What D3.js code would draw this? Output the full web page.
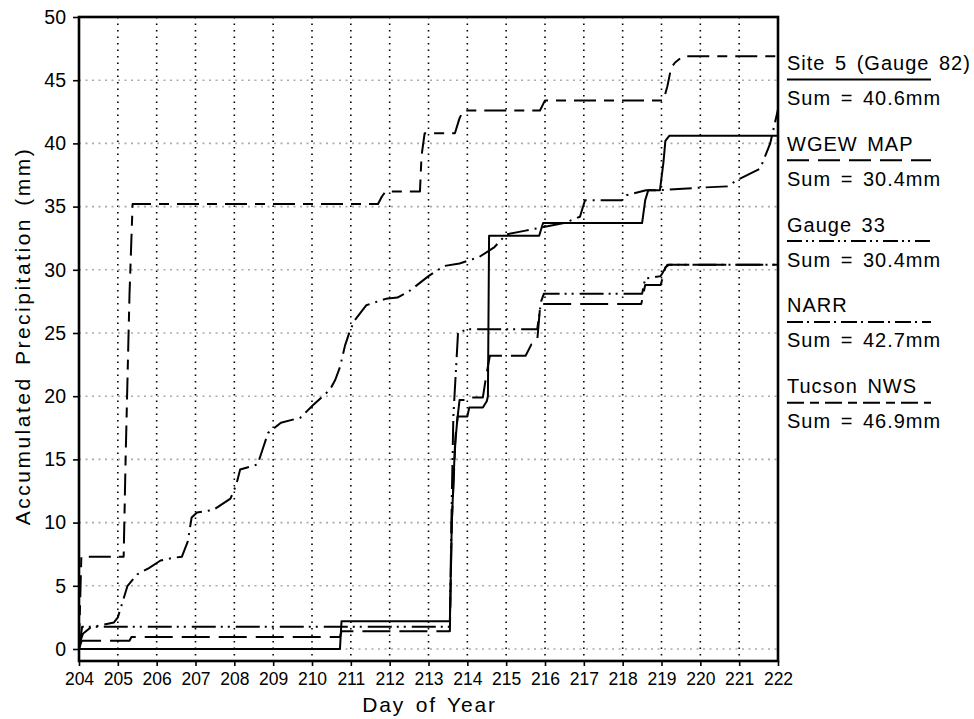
<!DOCTYPE html>
<html>
<head>
<meta charset="utf-8">
<script src="https://cdn.jsdelivr.net/npm/d3@7/dist/d3.min.js"></script>
<style>
  html, body { margin: 0; padding: 0; background: #fff; }
  svg { display: block; }
  text { font-family: "Liberation Sans", Arial, sans-serif; fill: #000; }
</style>
</head>
<body>
<svg id="chart" width="974" height="719"></svg>
<script>
// Accumulated precipitation, day of year 204-222
const xTicks = d3.range(204, 223, 1);
const yTicks = d3.range(0, 51, 5);

const site5Days = [204, 210.72, 210.76, 213.55, 213.6, 213.68, 213.75, 214.0, 214.05, 214.4, 214.5, 214.53, 214.56, 215.85, 215.95, 218.5, 218.58, 218.66, 218.96, 219.05, 219.1, 219.2, 222];
const site5Vals = [0, 0, 2.2, 2.2, 10, 16, 18.4, 18.4, 19.1, 19.1, 19.6, 20, 32.7, 32.7, 33.7, 33.7, 35.5, 36.3, 36.3, 38.5, 40.2, 40.6, 40.6];

const wgewDays = [204, 204.07, 205.3, 205.35, 210.72, 210.76, 213.55, 213.6, 213.7, 213.8, 214.0, 214.05, 214.4, 214.48, 214.58, 215.5, 215.65, 215.8, 215.88, 218.48, 218.58, 218.98, 219.1, 219.2, 222];
const wgewVals = [0, 0.65, 0.65, 0.95, 0.95, 1.4, 1.4, 10, 17, 19.7, 19.7, 19.9, 19.9, 21.5, 23.2, 23.2, 24.1, 24.4, 27.3, 27.3, 28.8, 28.8, 30.2, 30.4, 30.4];

const gauge33Days = [204, 204.08, 213.55, 213.6, 213.64, 213.76, 214.0, 215.8, 215.9, 215.97, 218.5, 218.58, 218.98, 219.15, 222];
const gauge33Vals = [0, 1.75, 1.75, 12, 18.4, 25.0, 25.3, 25.3, 27.5, 28.1, 28.1, 29.3, 29.5, 30.4, 30.4];

const narrDays = [204, 204.1, 204.3, 204.9, 205.0, 205.25, 205.5, 205.8, 206.1, 206.4, 206.65, 206.8, 206.9, 207.04, 207.46, 207.9, 208.05, 208.15, 208.6, 208.75, 208.87, 209.2, 209.7, 210.03, 210.46, 210.6, 210.72, 210.85, 210.98, 211.1, 211.4, 211.9, 212.2, 212.5, 213.0, 213.4, 213.8, 214.3, 214.7, 215.0, 215.5, 216.0, 216.5, 216.9, 217.03, 217.98, 218.1, 218.6, 218.96, 219.99, 220.7, 220.95, 221.54, 221.8, 222];
const narrVals = [0.3, 1.2, 1.7, 2.1, 2.5, 5.0, 5.9, 6.4, 7.0, 7.2, 7.3, 8.5, 10.4, 10.8, 11.0, 11.9, 13.0, 14.2, 14.6, 16.0, 17.1, 17.9, 18.3, 19.3, 20.5, 21.3, 22.3, 24.0, 25.2, 26.0, 27.2, 27.7, 27.8, 28.3, 29.5, 30.3, 30.5, 31.0, 31.8, 32.8, 33.1, 33.4, 33.7, 34.2, 35.5, 35.5, 35.9, 36.3, 36.3, 36.5, 36.6, 37.1, 38.0, 40.0, 42.7];

const tucsonDays = [204, 204.06, 205.15, 205.2, 205.3, 205.38, 211.7, 211.8, 211.9, 212.78, 212.82, 212.9, 213.68, 213.8, 213.9, 215.87, 216.0, 219.05, 219.15, 219.25, 219.35, 219.55, 222];
const tucsonVals = [0.3, 7.3, 7.3, 15, 28, 35.2, 35.2, 35.8, 36.2, 36.2, 39, 40.8, 40.8, 42.0, 42.6, 42.6, 43.4, 43.4, 44.5, 46.0, 46.4, 46.9, 46.9];

const seriesNames = ["Site 5 (Gauge 82)", "WGEW MAP", "Gauge 33", "NARR", "Tucson NWS"];
const seriesSums = ["Sum = 40.6mm", "Sum = 30.4mm", "Sum = 30.4mm", "Sum = 42.7mm", "Sum = 46.9mm"];

const series = [
  { name: seriesNames[0], sum: seriesSums[0], days: site5Days, vals: site5Vals, dash: null, legendDash: null },
  { name: seriesNames[1], sum: seriesSums[1], days: wgewDays, vals: wgewVals, dash: "28,9", legendDash: "22,9" },
  { name: seriesNames[2], sum: seriesSums[2], days: gauge33Days, vals: gauge33Vals, dash: "24,5,2,5,2,6", legendDash: "15,4,2,4,2,5" },
  { name: seriesNames[3], sum: seriesSums[3], days: narrDays, vals: narrVals, dash: "22,6,2,6", legendDash: "16,4,2,5" },
  { name: seriesNames[4], sum: seriesSums[4], days: tucsonDays, vals: tucsonVals, dash: "22,8,10,8", legendDash: "17,6,9,6" }
];

const svg = d3.select("#chart");
const plot = { left: 79, right: 778, top: 17, bottom: 661 };

const x = d3.scaleLinear().domain([204, 222]).range([plot.left, plot.right]);
const y = d3.scaleLinear().domain([-0.95, 50]).range([plot.bottom, plot.top]);

// grid: black dotted verticals, grey dotted horizontals
const grid = svg.append("g");
grid.selectAll("line.vg")
  .data(xTicks.filter(d => d > 204 && d < 222))
  .join("line")
  .attr("x1", d => x(d)).attr("x2", d => x(d))
  .attr("y1", plot.top).attr("y2", plot.bottom)
  .attr("stroke", "#000").attr("stroke-width", 1.6)
  .attr("stroke-dasharray", "1.6,4.9");
grid.selectAll("line.hg")
  .data(yTicks.filter(d => d < 50))
  .join("line")
  .attr("x1", plot.left).attr("x2", plot.right)
  .attr("y1", d => y(d)).attr("y2", d => y(d))
  .attr("stroke", "#aaa").attr("stroke-width", 1.6)
  .attr("stroke-dasharray", "2,4.5");

// data lines
const line = d3.line().x(d => x(d[0])).y(d => y(d[1]));
svg.append("g").selectAll("path")
  .data(series)
  .join("path")
  .attr("d", s => line(s.days.map((d, i) => [d, s.vals[i]])))
  .attr("fill", "none")
  .attr("stroke", "#000")
  .attr("stroke-width", 2)
  .attr("stroke-linejoin", "round")
  .attr("stroke-dasharray", s => s.dash);

// axes
const xAxis = svg.append("g")
  .attr("transform", `translate(0,${plot.bottom})`)
  .call(d3.axisBottom(x).tickValues(xTicks).tickFormat(d3.format("d")).tickSize(5).tickPadding(7));
xAxis.select(".domain").remove();
xAxis.selectAll(".tick line").attr("stroke", "#000").attr("stroke-width", 1.6);
xAxis.selectAll(".tick text").attr("font-size", 17.5).attr("font-family", "Liberation Sans, Arial, sans-serif");

const yAxis = svg.append("g")
  .attr("transform", `translate(${plot.left},0)`)
  .call(d3.axisLeft(y).tickValues(yTicks).tickFormat(d3.format("d")).tickSize(6).tickPadding(7));
yAxis.select(".domain").remove();
yAxis.selectAll(".tick line").attr("stroke", "#000").attr("stroke-width", 1.6);
yAxis.selectAll(".tick text").attr("font-size", 19.5).attr("font-family", "Liberation Sans, Arial, sans-serif");

// frame
svg.append("rect")
  .attr("x", plot.left).attr("y", plot.top)
  .attr("width", plot.right - plot.left).attr("height", plot.bottom - plot.top)
  .attr("fill", "none").attr("stroke", "#000").attr("stroke-width", 2.6);

// axis titles
svg.append("text")
  .attr("x", (plot.left + plot.right) / 2 + 1).attr("y", 712)
  .attr("text-anchor", "middle").attr("font-size", 21)
  .attr("letter-spacing", 1.8).attr("word-spacing", 3)
  .text("Day of Year");
svg.append("text")
  .attr("transform", "translate(30,336) rotate(-90)")
  .attr("text-anchor", "middle").attr("font-size", 21)
  .attr("letter-spacing", 2.5).attr("word-spacing", 3)
  .text("Accumulated Precipitation (mm)");

// legend
const legend = svg.append("g");
series.forEach((s, i) => {
  const top = 70 + i * 80.8;
  legend.append("text").attr("x", 787).attr("y", top)
    .attr("font-size", 20).attr("letter-spacing", 1).attr("word-spacing", 3).text(s.name);
  legend.append("line")
    .attr("x1", 787).attr("x2", 931).attr("y1", top + 9.5).attr("y2", top + 9.5)
    .attr("stroke", "#000").attr("stroke-width", 2)
    .attr("stroke-dasharray", s.legendDash);
  legend.append("text").attr("x", 787).attr("y", top + 35)
    .attr("font-size", 20).attr("letter-spacing", 1).attr("word-spacing", 3).text(s.sum);
});
</script>
</body>
</html>
